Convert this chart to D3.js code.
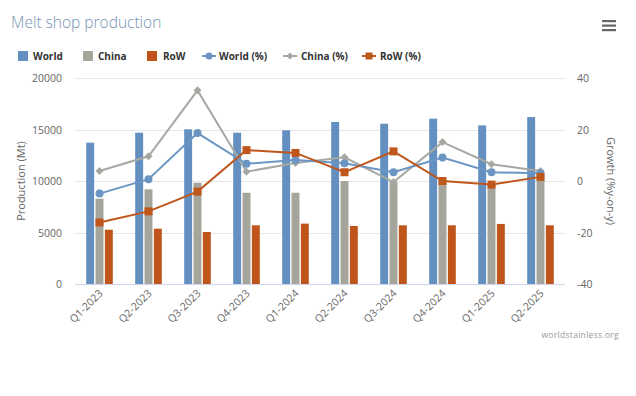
<!DOCTYPE html>
<html>
<head>
  <meta charset="UTF-8">
  <title>Melt shop production</title>
  <script src="https://cdn.jsdelivr.net/npm/d3@7"></script>
  <style>
    body { margin: 0; background: #fff; }
    text { font-family: "Open Sans", sans-serif; }
  </style>
</head>
<body>
<div id="chart"></div>
<script>
  var quarters = ['Q1-2023', 'Q2-2023', 'Q3-2023', 'Q4-2023', 'Q1-2024', 'Q2-2024', 'Q3-2024', 'Q4-2024', 'Q1-2025', 'Q2-2025'];
  var worldProd = [13720, 14690, 15020, 14690, 14920, 15730, 15560, 16050, 15400, 16210];
  var chinaProd = [8280, 9190, 9830, 8860, 8860, 10000, 9900, 10100, 9780, 10580];
  var rowProd   = [5270, 5370, 5050, 5700, 5860, 5630, 5700, 5700, 5830, 5700];
  var worldPct = [-4.9, 0.7, 18.6, 6.7, 8.2, 6.9, 3.4, 9.1, 3.4, 3.0];
  var chinaPct = [3.9, 9.6, 35.2, 3.6, 7.0, 9.2, -0.4, 15.1, 6.5, 3.9];
  var rowPct   = [-16.1, -11.8, -4.1, 12.0, 10.9, 3.4, 11.5, 0.0, -1.4, 1.6];
  var leftTicks = [0, 5000, 10000, 15000, 20000];
  var rightTicks = [-40, -20, 0, 20, 40];

  var w = 636, h = 396;
  var blue = '#6390c0', grey = '#a5a59b', orange = '#bf551b';
  var lineBlue = '#6b96c3', lineGrey = '#a8a8a3', lineOrange = '#bf571c';

  var svg = d3.select('#chart').append('svg')
      .attr('width', w)
      .attr('height', h);

  var plotL = 75, plotR = 565, plotT = 78, plotB = 284;

  var x0 = d3.scaleBand().domain(quarters).range([plotL, plotR]).paddingInner(0.4).paddingOuter(0.2);
  var xc = d3.scaleBand().domain(quarters).range([plotL, plotR]);
  var series = ['World', 'China', 'RoW'];
  var x1 = d3.scaleBand().domain(series).range([0, x0.bandwidth()]).padding(0.15);
  var yL = d3.scaleLinear().domain([0, 20000]).range([plotB, plotT]);
  var yR = d3.scaleLinear().domain([-40, 40]).range([plotB, plotT]);

  // title + menu
  svg.append('text').attr('x', 11).attr('y', 28)
      .attr('font-size', 15.5).attr('fill', '#7594b4').attr('font-weight', 300)
      .text('Melt shop production');
  [21, 25.5, 30].forEach(function(yy){
    svg.append('rect').attr('x', 602).attr('y', yy - 1).attr('width', 14).attr('height', 2.2).attr('fill', '#666');
  });

  // grid
  svg.append('g').selectAll('line').data(leftTicks).enter().append('line')
      .attr('x1', plotL).attr('x2', plotR)
      .attr('y1', function(d){ return Math.round(yL(d)) + 0.5; })
      .attr('y2', function(d){ return Math.round(yL(d)) + 0.5; })
      .attr('stroke', function(d){ return d === 0 ? '#ccd6eb' : '#e6e6e6'; })
      .attr('stroke-width', 1);

  // left axis labels
  svg.append('g').selectAll('text').data(leftTicks).enter().append('text')
      .attr('x', 62).attr('y', function(d){ return yL(d) + 4; })
      .attr('text-anchor', 'end').attr('font-size', 10.5).attr('fill', '#666')
      .text(function(d){ return d; });
  svg.append('text')
      .attr('transform', 'translate(25,' + ((plotT + plotB) / 2) + ') rotate(-90)')
      .attr('text-anchor', 'middle').attr('font-size', 11).attr('fill', '#666')
      .text('Production (Mt)');

  // right axis labels
  svg.append('g').selectAll('text').data(rightTicks).enter().append('text')
      .attr('x', 577).attr('y', function(d){ return yR(d) + 4; })
      .attr('text-anchor', 'start').attr('font-size', 10.5).attr('fill', '#666')
      .text(function(d){ return d; });
  svg.append('text')
      .attr('transform', 'translate(607,' + ((plotT + plotB) / 2) + ') rotate(90)')
      .attr('text-anchor', 'middle').attr('font-size', 11).attr('fill', '#666')
      .text('Growth (%y-on-y)');

  // x labels
  svg.append('g').selectAll('text').data(quarters).enter().append('text')
      .attr('transform', function(d){ return 'translate(' + (xc(d) + xc.bandwidth() / 2 + 4) + ',' + 294 + ') rotate(-45)'; })
      .attr('text-anchor', 'end').attr('font-size', 10.5).attr('fill', '#666')
      .text(function(d){ return d; });

  // bars
  var barData = [
    { name: 'World', vals: worldProd, color: blue },
    { name: 'China', vals: chinaProd, color: grey },
    { name: 'RoW', vals: rowProd, color: orange }
  ];
  barData.forEach(function(s){
    svg.append('g').selectAll('rect').data(s.vals).enter().append('rect')
        .attr('x', function(d, i){ return x0(quarters[i]) + x1(s.name); })
        .attr('width', x1.bandwidth())
        .attr('y', function(d){ return yL(d); })
        .attr('height', function(d){ return yL(0) - yL(d); })
        .attr('fill', s.color);
  });

  // lines
  var cx = function(i){ return xc(quarters[i]) + xc.bandwidth() / 2; };
  var line = d3.line().x(function(d, i){ return cx(i); }).y(function(d){ return yR(d); });

  function drawMarker(g, type, x, y, color){
    if (type === 'circle') {
      g.append('circle').attr('cx', x).attr('cy', y).attr('r', 4).attr('fill', color);
    } else if (type === 'diamond') {
      g.append('path').attr('d', 'M' + x + ',' + (y - 4) + 'L' + (x + 4) + ',' + y + 'L' + x + ',' + (y + 4) + 'L' + (x - 4) + ',' + y + 'Z').attr('fill', color);
    } else {
      g.append('rect').attr('x', x - 4).attr('y', y - 4).attr('width', 8).attr('height', 8).attr('fill', color);
    }
  }

  var lineData = [
    { vals: chinaPct, color: lineGrey, marker: 'diamond' },
    { vals: worldPct, color: lineBlue, marker: 'circle' },
    { vals: rowPct, color: lineOrange, marker: 'square' }
  ];
  lineData.forEach(function(s){
    var g = svg.append('g');
    g.append('path').datum(s.vals).attr('d', line)
        .attr('fill', 'none').attr('stroke', s.color).attr('stroke-width', 2);
    s.vals.forEach(function(v, i){ drawMarker(g, s.marker, cx(i), yR(v), s.color); });
  });

  // legend
  var legend = [
    { label: 'World', type: 'bar', color: blue, x: 18, tx: 33 },
    { label: 'China', type: 'bar', color: grey, x: 83, tx: 98 },
    { label: 'RoW', type: 'bar', color: orange, x: 147, tx: 163 },
    { label: 'World (%)', type: 'circle', color: lineBlue, x: 202, tx: 219 },
    { label: 'China (%)', type: 'diamond', color: lineGrey, x: 283, tx: 301 },
    { label: 'RoW (%)', type: 'square', color: lineOrange, x: 362, tx: 380 }
  ];
  var ly = 56;
  legend.forEach(function(l){
    var g = svg.append('g');
    if (l.type === 'bar') {
      g.append('rect').attr('x', l.x).attr('y', ly - 5).attr('width', 10).attr('height', 10).attr('fill', l.color);
    } else {
      g.append('line').attr('x1', l.x).attr('x2', l.x + 14).attr('y1', ly).attr('y2', ly)
          .attr('stroke', l.color).attr('stroke-width', 2);
      if (l.type === 'circle') g.append('circle').attr('cx', l.x + 7).attr('cy', ly).attr('r', 3.5).attr('fill', l.color);
      else if (l.type === 'diamond') g.append('path').attr('d', 'M' + (l.x + 7) + ',' + (ly - 3.5) + 'l3.5,3.5l-3.5,3.5l-3.5,-3.5z').attr('fill', l.color);
      else g.append('rect').attr('x', l.x + 3.5).attr('y', ly - 3.5).attr('width', 7).attr('height', 7).attr('fill', l.color);
    }
    g.append('text').attr('x', l.tx).attr('y', ly + 4).attr('font-size', 10).attr('font-weight', 'bold')
        .attr('fill', '#333').text(l.label);
  });

  // credit
  svg.append('text').attr('x', 619).attr('y', 338).attr('text-anchor', 'end')
      .attr('font-size', 8.5).attr('fill', '#999').attr('letter-spacing', 0.3).text('worldstainless.org');
</script>
</body>
</html>
